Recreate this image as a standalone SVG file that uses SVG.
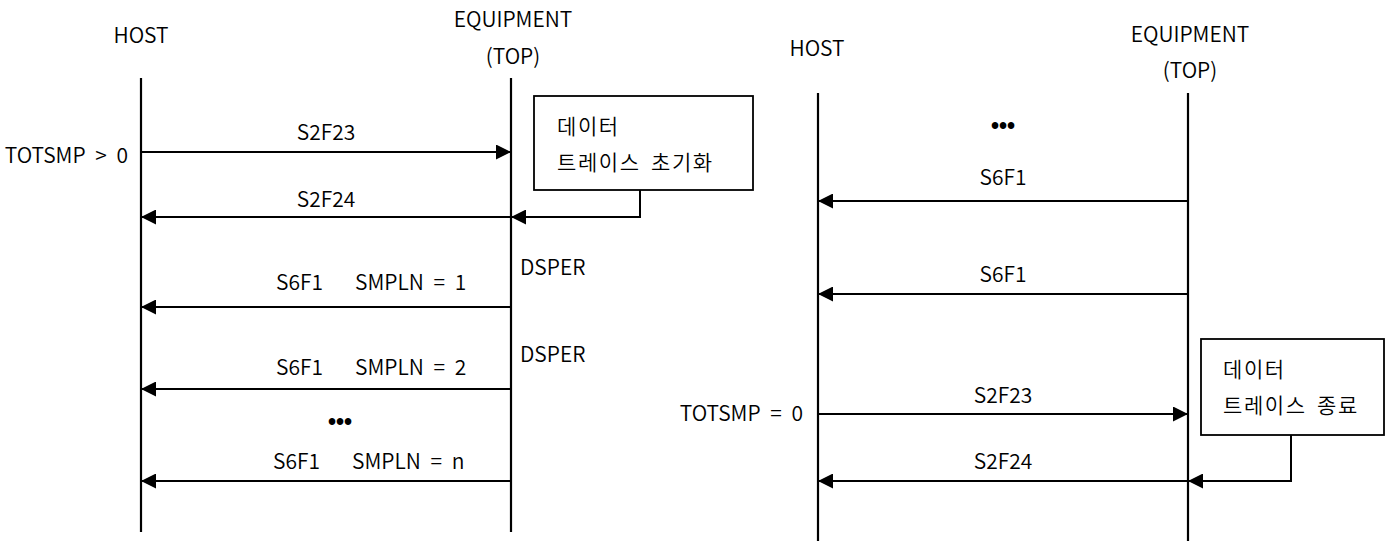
<svg xmlns="http://www.w3.org/2000/svg" width="1389" height="541" viewBox="0 0 1389 541">
<style>
text{font-family:"Noto Sans CJK KR","Malgun Gothic",sans-serif;font-size:21px;font-weight:350;fill:#000}
.c{text-anchor:middle}
.e{text-anchor:end}
.ko{letter-spacing:1.6px;word-spacing:4px}
.ws{word-spacing:5px}
.dots{font-family:"Liberation Sans",sans-serif;font-size:23px;font-weight:bold;text-anchor:middle}
.life{stroke:#000;stroke-width:2.2;fill:none}
.msg{stroke:#000;stroke-width:2.2;fill:none;marker-end:url(#ah)}
.link{stroke:#000;stroke-width:2;fill:none;marker-end:url(#ah)}
.box{fill:#fff;stroke:#000;stroke-width:1.8}
</style>
<defs>
<marker id="ah" viewBox="0 0 15 15" refX="15" refY="7.5" markerWidth="15" markerHeight="15" markerUnits="userSpaceOnUse" orient="auto">
<path d="M0,0 L15,7.5 L0,15 Z" fill="#000"/>
</marker>
</defs>
<g id="left-host">
<text class="c" x="141" y="43">HOST</text>
<line class="life" x1="141" y1="78" x2="141" y2="532"/>
</g>
<g id="left-equipment">
<text class="c" x="513" y="27">EQUIPMENT</text>
<text class="c" x="513" y="64">(TOP)</text>
<line class="life" x1="511" y1="78" x2="511" y2="532"/>
</g>
<g id="left-note">
<rect class="box" x="534" y="96" width="219" height="94"/>
<text class="ko" x="557" y="134">데이터</text>
<text class="ko" x="557" y="170">트레이스 초기화</text>
</g>
<g id="right-host">
<text class="c" x="817" y="56">HOST</text>
<line class="life" x1="818" y1="93" x2="818" y2="541"/>
</g>
<g id="right-equipment">
<text class="c" x="1190" y="42">EQUIPMENT</text>
<text class="c" x="1190" y="78">(TOP)</text>
<line class="life" x1="1188" y1="93" x2="1188" y2="541"/>
</g>
<g id="right-note">
<rect class="box" x="1201" y="339" width="183" height="96"/>
<text class="ko" x="1223" y="377">데이터</text>
<text class="ko" x="1223" y="413">트레이스 종료</text>
</g>
<g id="connectors">
<line class="msg" x1="141" y1="152" x2="511" y2="152"/>
<line class="msg" x1="511" y1="217" x2="141" y2="217"/>
<polyline class="link" points="640,190 640,217 511,217"/>
<line class="msg" x1="511" y1="307" x2="141" y2="307"/>
<line class="msg" x1="511" y1="389" x2="141" y2="389"/>
<line class="msg" x1="511" y1="481" x2="141" y2="481"/>
<line class="msg" x1="1188" y1="201" x2="818" y2="201"/>
<line class="msg" x1="1188" y1="294" x2="818" y2="294"/>
<line class="msg" x1="818" y1="414" x2="1188" y2="414"/>
<line class="msg" x1="1188" y1="481" x2="818" y2="481"/>
<polyline class="link" points="1291,435 1291,481 1188,481"/>
</g>
<g id="labels">
<text class="e ws" x="128" y="163">TOTSMP &gt; 0</text>
<text class="c" x="326" y="140">S2F23</text>
<text class="c" x="326" y="207">S2F24</text>
<text x="520" y="275">DSPER</text>
<text x="520" y="362">DSPER</text>
<text class="ws" y="290"><tspan x="276">S6F1</tspan><tspan x="355">SMPLN = 1</tspan></text>
<text class="ws" y="375"><tspan x="276">S6F1</tspan><tspan x="355">SMPLN = 2</tspan></text>
<text class="dots" x="340" y="430">•••</text>
<text class="ws" y="469"><tspan x="273">S6F1</tspan><tspan x="352">SMPLN = n</tspan></text>
<text class="dots" x="1003" y="134">•••</text>
<text class="c" x="1003" y="185">S6F1</text>
<text class="c" x="1003" y="282">S6F1</text>
<text class="e ws" x="803" y="421">TOTSMP = 0</text>
<text class="c" x="1003" y="403">S2F23</text>
<text class="c" x="1003" y="469">S2F24</text>
</g>
</svg>
